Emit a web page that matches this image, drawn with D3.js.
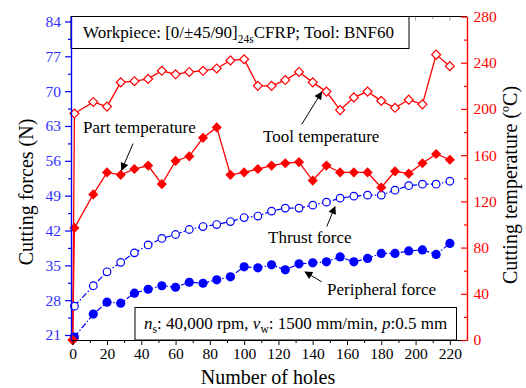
<!DOCTYPE html>
<html>
<head>
<meta charset="utf-8">
<title>Cutting forces and temperature</title>
<style>
    body { margin: 0; background: #fff; }
    svg text { font-family: "Liberation Serif", "Times New Roman", serif; }
    .ann { font-size: 17px; fill: #000; }
</style>
</head>
<body>
<script src="https://cdn.jsdelivr.net/npm/d3@7"></script>
<script>
    /*===== DATA =====*/
    var holes = [1, 12, 20, 28, 36, 44, 52, 60, 68, 76, 84, 92, 100, 108, 116, 124, 132, 140, 148, 156, 164, 172, 180, 188, 196, 204, 212, 220];
    var thrust = [26.8, 30.9, 33.7, 35.6, 37.5, 39.1, 40.4, 41.2, 42.2, 42.8, 43.2, 43.8, 44.6, 44.9,
                  45.9, 46.5, 46.5, 47.1, 47.7, 48.5, 48.9, 49.1, 49.1, 50.1, 51.0, 51.3, 51.3, 51.9];
    var peripheral = [20.6, 25.2, 27.6, 27.4, 29.4, 30.2, 30.9, 30.6, 31.6, 31.4, 32.1, 32.7, 34.7, 34.5,
                      35.1, 34.1, 35.3, 35.5, 35.7, 36.7, 35.7, 36.4, 37.4, 37.4, 37.9, 38.1, 37.2, 39.4];
    // temperatures start from 0 at hole 0
    var tempHoles = [0, 1, 12, 20, 28, 36, 44, 52, 60, 68, 76, 84, 92, 100, 108, 116, 124, 132, 140, 148, 156, 164, 172, 180, 188, 196, 204, 212, 220];
    var toolTemp = [0, 196, 206, 202, 223, 224, 226, 233, 230, 232, 233, 235, 242, 243,
                    220, 220, 225, 232, 223, 215, 199, 210, 215, 207, 201, 208, 204, 247, 237];
    var partTemp = [0, 97, 126, 145, 143, 148, 151, 135, 155, 159, 175, 184, 143, 145,
                    148, 151, 153, 154, 138, 151, 145, 145, 145, 132, 146, 144, 153, 161, 156];

    var xTicks = d3.range(0, 221, 20);
    var forceTicks = [21, 28, 35, 42, 49, 56, 63, 70, 77, 84];
    var tempTicks = [0, 40, 80, 120, 160, 200, 240, 280];

    /*===== SIZE =====*/
    var svgWidth = 526, svgHeight = 388;
    var margin = { top: 16.5, right: 59, bottom: 48, left: 71 };
    var width = svgWidth - margin.left - margin.right;
    var height = svgHeight - margin.top - margin.bottom;

    var blue = "#0000ff", red = "#ff0000";
    var serif = "'Liberation Serif', 'Times New Roman', serif";

    // scales
    var x = d3.scaleLinear().domain([-1, 230]).range([0, width]);
    var yF = d3.scaleLinear().domain([20, 85]).range([height, 0]);
    var yT = d3.scaleLinear().domain([0, 280]).range([height, 0]);

    var svg = d3.select("body").append("svg").attr("width", svgWidth).attr("height", svgHeight)
        .attr("font-family", serif);
    var g = svg.append("g").attr("transform", "translate(" + margin.left + "," + margin.top + ")");

    // top border with small inward ticks
    g.append("line").attr("x1", 0).attr("x2", width).attr("y1", 0).attr("y2", 0).attr("stroke", "#000");
    g.append("g").selectAll("line").data(d3.range(0, 221, 10)).enter().append("line")
        .attr("x1", d => x(d)).attr("x2", d => x(d)).attr("y1", 0).attr("y2", d => d % 20 === 0 ? 4 : 2.5)
        .attr("stroke", "#666").attr("stroke-width", 0.6);

    // boxes
    g.append("rect").attr("x", 0).attr("y", 0).attr("width", 338).attr("height", 32)
        .attr("fill", "#fff").attr("stroke", "#000").attr("stroke-width", 1);
    var t1 = g.append("text").attr("class", "ann").attr("x", 12).attr("y", 21.5);
    t1.append("tspan").text("Workpiece: [0/±45/90]");
    t1.append("tspan").attr("dy", 4.5).attr("font-size", 11.5).text("24s");
    t1.append("tspan").attr("dy", -4.5).text("CFRP; Tool: BNF60");

    g.append("rect").attr("x", 64).attr("y", 291).attr("width", 321.5).attr("height", height - 291)
        .attr("fill", "#fff").attr("stroke", "#000").attr("stroke-width", 1);
    var t2 = g.append("text").attr("class", "ann").attr("x", 73).attr("y", 312.5);
    t2.append("tspan").attr("font-style", "italic").text("n");
    t2.append("tspan").attr("dy", 4).attr("font-size", 11.5).text("s");
    t2.append("tspan").attr("dy", -4).text(": 40,000 rpm, ");
    t2.append("tspan").attr("font-style", "italic").text("v");
    t2.append("tspan").attr("dy", 4).attr("font-size", 11.5).text("w");
    t2.append("tspan").attr("dy", -4).text(": 1500 mm/min, ");
    t2.append("tspan").attr("font-style", "italic").text("p");
    t2.append("tspan").text(":0.5 mm");

    // lines
    var lineF = function (vals) {
        return d3.line().x((d, i) => x(holes[i])).y(d => yF(d))(vals);
    };
    var lineT = function (vals) {
        return d3.line().x((d, i) => x(tempHoles[i])).y(d => yT(d))(vals);
    };

    g.append("path").attr("d", lineF(thrust)).attr("fill", "none").attr("stroke", blue)
        .attr("stroke-width", 1.2).attr("stroke-dasharray", "6,2,1.5,2");
    g.append("path").attr("d", lineF(peripheral)).attr("fill", "none").attr("stroke", blue)
        .attr("stroke-width", 1.2).attr("stroke-dasharray", "6,2,1.5,2");
    g.append("path").attr("d", lineT(toolTemp)).attr("fill", "none").attr("stroke", red).attr("stroke-width", 1.3);
    g.append("path").attr("d", lineT(partTemp)).attr("fill", "none").attr("stroke", red).attr("stroke-width", 1.3);

    // markers
    g.selectAll(".thr").data(thrust).enter().append("circle").attr("class", "thr")
        .attr("cx", (d, i) => x(holes[i])).attr("cy", d => yF(d)).attr("r", 3.8)
        .attr("fill", "#fff").attr("stroke", blue).attr("stroke-width", 1.2);
    g.selectAll(".per").data(peripheral).enter().append("circle").attr("class", "per")
        .attr("cx", (d, i) => x(holes[i])).attr("cy", d => yF(d)).attr("r", 4.6)
        .attr("fill", blue);

    var sq = d3.symbol().type(d3.symbolSquare);
    g.selectAll(".tool").data(toolTemp).enter().append("path").attr("class", "tool")
        .attr("d", sq.size(40))
        .attr("transform", (d, i) => "translate(" + x(tempHoles[i]) + "," + yT(d) + ") rotate(45)")
        .attr("fill", "#fff").attr("stroke", red).attr("stroke-width", 1.2);
    g.selectAll(".part").data(partTemp).enter().append("path").attr("class", "part")
        .attr("d", sq.size(52))
        .attr("transform", (d, i) => "translate(" + x(tempHoles[i]) + "," + yT(d) + ") rotate(45)")
        .attr("fill", red);

    // axes
    g.append("g").attr("class", "axis").attr("transform", "translate(0," + height + ")")
        .call(d3.axisBottom(x).tickValues(xTicks).tickSize(5).tickPadding(3).tickSizeOuter(0));
    g.append("g").attr("transform", "translate(0," + height + ")")
        .call(d3.axisBottom(x).tickValues(d3.range(10, 221, 20)).tickSize(3).tickFormat("").tickSizeOuter(0));

    g.append("g").attr("class", "axis left")
        .call(d3.axisLeft(yF).tickValues(forceTicks).tickSize(6).tickPadding(4).tickSizeOuter(0));
    g.append("g").attr("class", "left")
        .call(d3.axisLeft(yF).tickValues(d3.range(24.5, 85, 7)).tickSize(3).tickFormat("").tickSizeOuter(0));

    g.append("g").attr("class", "axis right").attr("transform", "translate(" + width + ",0)")
        .call(d3.axisRight(yT).tickValues(tempTicks).tickSize(-6).tickPadding(6.5).tickSizeOuter(0));
    g.append("g").attr("class", "right").attr("transform", "translate(" + width + ",0)")
        .call(d3.axisRight(yT).tickValues(d3.range(20, 280, 40)).tickSize(-3).tickFormat("").tickSizeOuter(0));

    g.selectAll(".left path, .left line").attr("stroke", blue).attr("stroke-width", 1.2);
    g.selectAll(".left text").attr("fill", "#2f2fff");
    g.selectAll(".right path, .right line").attr("stroke", red).attr("stroke-width", 1.2);
    g.selectAll(".right text").attr("fill", red);
    g.selectAll(".axis").attr("font-family", serif).attr("font-size", 15.5);

    // axis titles
    svg.append("text").attr("transform", "translate(33,192) rotate(-90)").attr("text-anchor", "middle")
        .attr("font-size", 20).text("Cutting forces (N)");
    var rt = svg.append("text").attr("transform", "translate(517,185) rotate(-90)").attr("text-anchor", "middle")
        .attr("font-size", 20);
    rt.append("tspan").text("Cutting temperature (");
    rt.append("tspan").attr("dy", -8).attr("font-size", 12).text("o");
    rt.append("tspan").attr("dy", 8).text("C)");
    svg.append("text").attr("x", 268).attr("y", 384).attr("text-anchor", "middle")
        .attr("font-size", 20).text("Number of holes");

    // annotations with arrows
    svg.append("defs").append("marker").attr("id", "ah").attr("viewBox", "0 0 10 10")
        .attr("refX", 9).attr("refY", 5).attr("markerWidth", 10).attr("markerHeight", 8)
        .attr("markerUnits", "userSpaceOnUse").attr("orient", "auto")
        .append("path").attr("d", "M0,0L10,5L0,10Z").attr("fill", "#000");

    var arrows = [
        { x1: x(35.2), y1: yT(170), x2: x(28.5), y2: yT(147) },
        { x1: x(133.6), y1: yT(186.7), x2: x(145.2), y2: yT(214.6) },
        { x1: x(148.2), y1: yF(42.8), x2: x(153), y2: yF(46.8) },
        { x1: x(145.2), y1: yF(31.7), x2: x(135.5), y2: yF(33.7) }
    ];
    g.selectAll(".arr").data(arrows).enter().append("line").attr("class", "arr")
        .attr("x1", d => d.x1).attr("y1", d => d.y1).attr("x2", d => d.x2).attr("y2", d => d.y2)
        .attr("stroke", "#000").attr("stroke-width", 1).attr("marker-end", "url(#ah)");

    var labels = [
        { t: "Part temperature", x: 83, y: 133 },
        { t: "Tool temperature", x: 263, y: 142 },
        { t: "Thrust force", x: 268, y: 243 },
        { t: "Peripheral force", x: 327, y: 295 }
    ];
    svg.selectAll(".lbl").data(labels).enter().append("text").attr("class", "ann lbl")
        .attr("x", d => d.x).attr("y", d => d.y).text(d => d.t);
</script>
</body>
</html>
